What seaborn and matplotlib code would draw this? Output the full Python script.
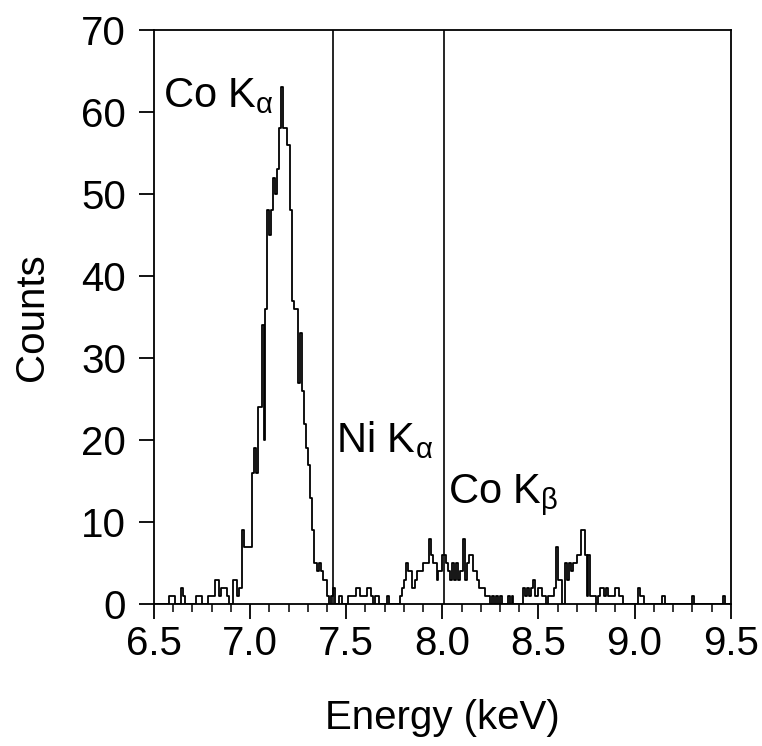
import numpy as np
import pandas as pd
import matplotlib
matplotlib.use("Agg")
import matplotlib.pyplot as plt
from matplotlib.ticker import MultipleLocator, FormatStrFormatter
import seaborn as sns

# --- spectrum data: counts per 0.01 keV channel, 6.50 - 9.50 keV ---
e_start = 6.5
bin_width = 0.01
counts = [
    0, 0, 0, 0, 0, 0, 0, 0, 1, 1,        # 6.5
    1, 0, 0, 0, 2, 1, 0, 0, 0, 0,        # 6.6
    0, 0, 1, 1, 1, 0, 0, 0, 1, 1,        # 6.7
    1, 1, 3, 3, 1, 2, 2, 2, 1, 0,        # 6.8
    0, 3, 3, 1, 2, 2, 9, 7, 7, 7,        # 6.9
    7, 16, 19, 16, 24, 24, 34, 20, 36, 48,   # 7.0
    45, 48, 52, 50, 53, 58, 63, 58, 58, 56,  # 7.1
    56, 48, 37, 36, 36, 27, 33, 26, 22, 19,  # 7.2
    17, 13, 9, 5, 5, 4, 5, 4, 3, 3,      # 7.3
    1, 0, 1, 2, 0, 0, 1, 1, 0, 0,        # 7.4
    0, 1, 1, 1, 1, 2, 2, 1, 1, 1,        # 7.5
    1, 2, 2, 1, 0, 1, 1, 0, 0, 0,        # 7.6
    0, 1, 0, 0, 0, 0, 0, 0, 1, 2,        # 7.7
    3, 5, 4, 4, 2, 2, 3, 4, 4, 4,        # 7.8
    5, 5, 5, 8, 6, 5, 5, 3, 4, 4,        # 7.9
    6, 6, 5, 4, 3, 5, 3, 5, 3, 4,        # 8.0
    4, 8, 3, 5, 6, 6, 4, 4, 3, 2,        # 8.1
    2, 2, 1, 1, 1, 0, 1, 0, 1, 0,        # 8.2
    1, 0, 0, 0, 1, 0, 1, 0, 0, 0,        # 8.3
    0, 0, 2, 1, 2, 1, 2, 3, 1, 1,        # 8.4
    2, 2, 1, 1, 0, 1, 1, 1, 2, 7,        # 8.5
    3, 3, 0, 0, 5, 3, 5, 4, 5, 5,        # 8.6
    6, 6, 9, 9, 6, 1, 6, 1, 1, 1,        # 8.7
    0, 1, 2, 2, 1, 2, 1, 1, 1, 1,        # 8.8
    2, 2, 1, 1, 0, 0, 0, 0, 0, 0,        # 8.9
    0, 0, 2, 1, 1, 0, 0, 0, 0, 0,        # 9.0
    0, 0, 0, 0, 1, 1, 0, 0, 0, 0,        # 9.1
    0, 0, 0, 0, 0, 0, 0, 0, 0, 0,        # 9.2
    1, 0, 0, 0, 0, 0, 0, 0, 0, 0,        # 9.3
    0, 0, 0, 0, 0, 0, 1, 0, 0, 0,        # 9.4
]

# marker lines and peak labels
line_energies = [7.43, 8.01]
peak_names = ["Co K$_{α}$", "Ni K$_{α}$", "Co K$_{β}$"]
peak_x = [6.548, 7.447, 8.03]
peak_y = [60.6, 18.6, 12.3]

x_ticks = [6.5, 7.0, 7.5, 8.0, 8.5, 9.0, 9.5]
y_ticks = [0, 10, 20, 30, 40, 50, 60, 70]

edges = np.round(e_start + bin_width * np.arange(len(counts) + 1), 3)
df = pd.DataFrame({"energy": edges[:-1] + bin_width / 2, "counts": counts})

sns.set_style("ticks")
plt.rcParams["font.family"] = ["Liberation Sans", "DejaVu Sans"]
plt.rcParams["mathtext.fontset"] = "custom"
plt.rcParams["mathtext.rm"] = "Liberation Sans"
plt.rcParams["mathtext.it"] = "Liberation Sans"
plt.rcParams["mathtext.default"] = "regular"
plt.rcParams["text.color"] = "black"
plt.rcParams["axes.labelcolor"] = "black"

fig = plt.figure(figsize=(7.62, 7.46), dpi=100)
ax = fig.add_axes([0.202, 0.190, 0.757, 0.770])

sns.histplot(data=df, x="energy", weights="counts", bins=list(edges),
             element="step", fill=False, color="black", linewidth=1.3, ax=ax)

for e in line_energies:
    ax.axvline(e, color="black", lw=1.2)

for name, x, y in zip(peak_names, peak_x, peak_y):
    ax.text(x, y, name, fontsize=30, va="baseline", ha="left", color="black")

ax.set_xlim(6.5, 9.5)
ax.set_ylim(0, 70)
ax.set_xticks(x_ticks)
ax.set_yticks(y_ticks)
ax.xaxis.set_major_formatter(FormatStrFormatter("%.1f"))
ax.xaxis.set_minor_locator(MultipleLocator(0.1))
ax.tick_params(axis="both", which="major", direction="out", length=11,
               width=1.3, labelsize=29, color="black", labelcolor="black")
ax.tick_params(axis="x", which="major", pad=4)
ax.tick_params(axis="y", which="major", pad=9)
ax.tick_params(axis="x", which="minor", direction="out", length=6,
               width=1.1, color="black")

for s in ax.spines.values():
    s.set_visible(True)
    s.set_linewidth(1.3)
    s.set_color("black")

ax.set_xlabel("Energy (keV)", fontsize=29, labelpad=26)
ax.set_ylabel("Counts", fontsize=29, labelpad=22)

fig.savefig("out.png", dpi=100)
